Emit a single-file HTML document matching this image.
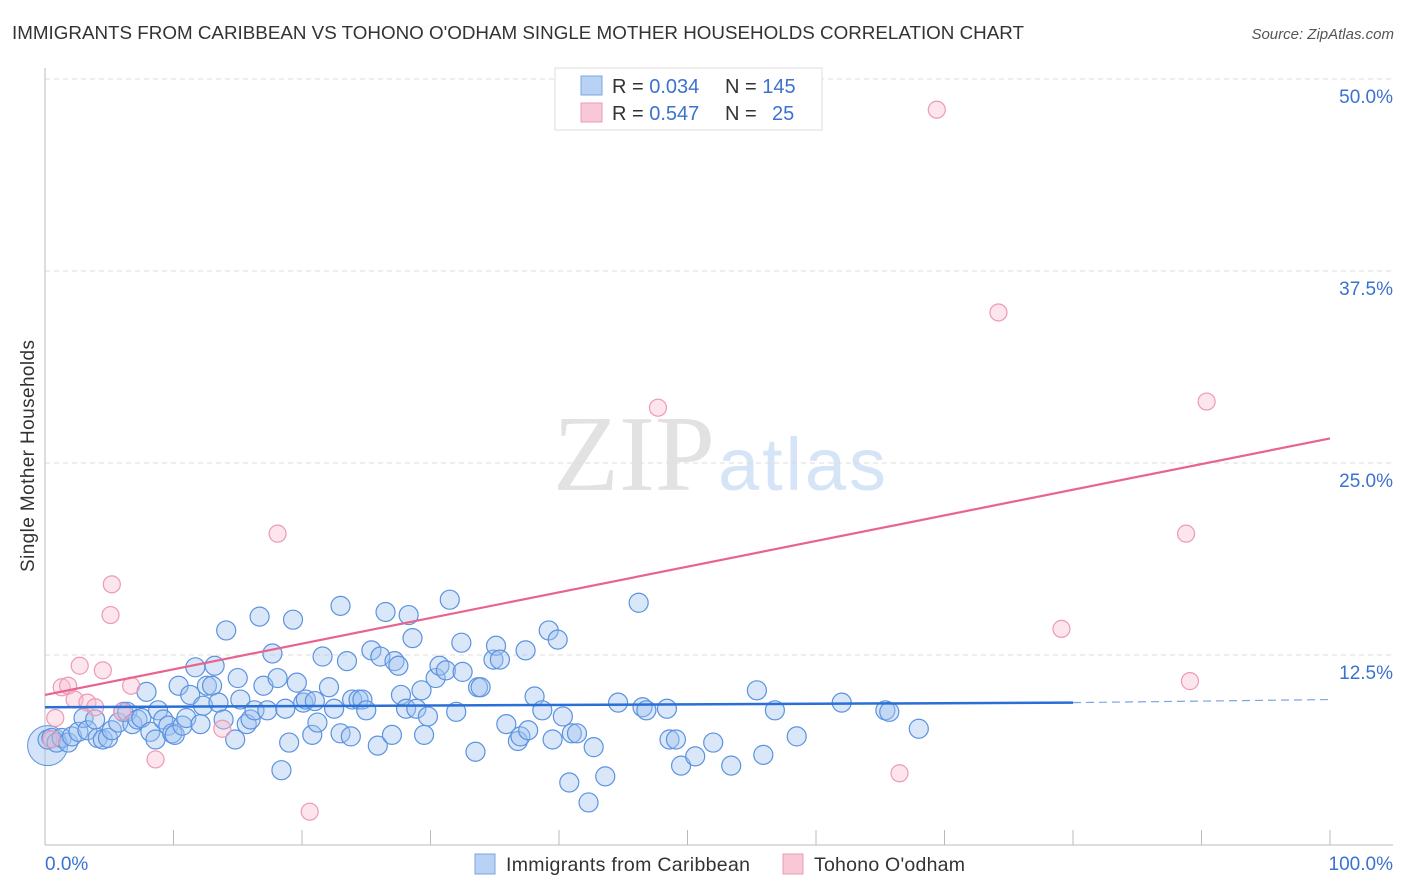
<!DOCTYPE html>
<html><head><meta charset="utf-8"><style>
body{margin:0;background:#fff;font-family:"Liberation Sans",sans-serif;}
#wrap{position:relative;width:1406px;height:892px;overflow:hidden;}
</style></head><body>
<div id="wrap">
<svg id="svg" width="1406" height="892" xmlns="http://www.w3.org/2000/svg" style="position:absolute;left:0;top:0">
<text x="12" y="39" font-size="18.5" fill="#333" textLength="1012" lengthAdjust="spacingAndGlyphs">IMMIGRANTS FROM CARIBBEAN VS TOHONO O'ODHAM SINGLE MOTHER HOUSEHOLDS CORRELATION CHART</text>
<text x="1394" y="39" font-size="15" fill="#555" font-style="italic" text-anchor="end">Source: ZipAtlas.com</text>
<text transform="translate(34,456) rotate(-90)" font-size="19" fill="#333" text-anchor="middle" textLength="232">Single Mother Households</text>
<text x="553" y="490" font-size="108" font-family="Liberation Serif,serif" fill="#e2e2e2" textLength="162" lengthAdjust="spacingAndGlyphs">ZIP</text>
<text x="718" y="490" font-size="74" fill="#d6e4f7" textLength="168">atlas</text>
<g id="grid"></g><g id="axes"></g><g id="pts"></g><g id="lines"></g>
<g>
<rect x="555" y="68" width="267" height="62" fill="#fff" stroke="#ddd"/>
<rect x="581" y="76" width="21" height="19" fill="#b9d2f3" stroke="#7aa6e6"/>
<rect x="581" y="103" width="21" height="19" fill="#f9c8d6" stroke="#eb9ab3"/>
<text x="612" y="93" font-size="20" fill="#333">R = <tspan fill="#3b72d1">0.034</tspan><tspan x="725">N = </tspan><tspan fill="#3b72d1">145</tspan></text>
<text x="612" y="120" font-size="20" fill="#333">R = <tspan fill="#3b72d1">0.547</tspan><tspan x="725">N = </tspan><tspan x="772" fill="#3b72d1">25</tspan></text>
</g>
<g>
<rect x="475" y="854" width="20" height="20" fill="#b9d2f3" stroke="#7aa6e6"/>
<text x="506" y="871" font-size="19.5" fill="#333" textLength="244">Immigrants from Caribbean</text>
<rect x="783" y="854" width="20" height="20" fill="#f9c8d6" stroke="#eb9ab3"/>
<text x="814" y="871" font-size="19.5" fill="#333" textLength="151">Tohono O'odham</text>
</g>
<text x="45" y="870" font-size="19" fill="#3b72d1">0.0%</text>
<text x="1393" y="870" font-size="19" fill="#3b72d1" text-anchor="end">100.0%</text>
</svg>
</div>
<script>
const yTicks=[12.5,25,37.5,50];
const yTickLabels=["12.5%","25.0%","37.5%","50.0%"];
const blueX=[0.2,0.5,0.9,1.3,1.8,2.1,2.6,3.0,3.3,3.9,4.1,4.5,4.9,5.2,5.7,6.1,6.4,6.8,7.2,7.5,7.9,8.2,8.6,8.8,9.2,9.6,9.9,10.1,10.4,10.7,11.0,11.3,11.7,12.1,12.3,12.6,13.0,13.2,13.5,13.9,14.1,14.8,15.0,15.2,15.7,16.0,16.3,16.7,17.0,17.3,17.7,18.1,18.4,18.7,19.0,19.3,19.6,20.1,20.3,20.8,21.0,21.2,21.6,22.1,22.5,23.0,23.0,23.5,23.8,23.9,24.4,24.7,25.0,25.4,25.9,26.1,26.5,27.0,27.2,27.5,27.7,28.1,28.3,28.6,28.9,29.3,29.5,29.8,30.4,30.7,31.2,31.5,32.0,32.4,32.5,33.5,33.7,33.9,34.9,35.1,35.4,35.9,36.8,37.0,37.4,37.6,38.1,38.7,39.2,39.5,39.9,40.3,40.8,41.0,41.4,42.3,42.7,43.6,44.6,46.2,46.5,46.8,48.4,48.6,49.1,49.5,50.6,52.0,53.4,55.4,55.9,56.8,58.5,62.0,65.4,65.7,68.0];
const blueY=[7.0,7.1,6.8,7.1,6.8,7.2,7.5,8.4,7.6,8.3,7.1,7.0,7.1,7.6,8.1,8.8,8.8,8.0,8.3,8.4,10.1,7.5,7.0,8.9,8.3,7.9,7.4,7.3,10.5,7.9,8.4,9.9,11.7,8.0,9.2,10.5,10.5,11.8,9.4,8.3,14.1,7.0,11.0,9.6,8.0,8.3,8.9,15.0,10.5,8.9,12.6,11.0,5.0,9.0,6.8,14.8,10.7,9.4,9.6,7.3,9.5,8.1,12.4,10.4,9.0,15.7,7.4,12.1,7.2,9.6,9.6,9.6,8.9,12.8,6.6,12.4,15.3,7.3,12.1,11.8,9.9,9.0,15.1,13.6,9.0,10.2,7.3,8.5,11.0,11.8,11.5,16.1,8.8,13.3,11.4,6.2,10.4,10.4,12.2,13.1,12.2,8.0,6.9,7.2,12.8,7.6,9.8,8.9,14.1,7.0,13.5,8.5,4.2,7.4,7.4,2.9,6.5,4.6,9.4,15.9,9.1,8.9,9.0,7.0,7.0,5.3,5.9,6.8,5.3,10.2,6.0,8.9,7.2,9.4,8.9,8.8,7.7];
const pinkX=[0.5,0.8,1.3,1.8,2.3,2.7,3.3,3.9,4.5,5.1,5.2,6.0,6.7,8.6,13.8,18.1,20.6,47.7,69.4,74.2,79.1,88.8,89.1,90.4,66.5];
const pinkY=[7.0,8.4,10.4,10.5,9.6,11.8,9.4,9.1,11.5,15.1,17.1,8.8,10.5,5.7,7.7,20.4,2.3,28.6,48.0,34.8,14.2,20.4,10.8,29.0,4.8];
const blueTrend=[[0,9.1],[80,9.4]];
const blueTrendDash=[[80,9.4],[100,9.6]];
const pinkTrend=[[0,9.9],[100,26.6]];
const X=v=>45+v*12.85, Y=v=>847-v*15.36;
const NS="http://www.w3.org/2000/svg";
function mk(tag,attrs,parent){const e=document.createElementNS(NS,tag);for(const k in attrs)e.setAttribute(k,attrs[k]);document.getElementById(parent).appendChild(e);return e;}
yTicks.forEach((t,i)=>{
 const g=mk('line',{x1:45,x2:1393,y1:Y(t),y2:Y(t),stroke:'#ddd','stroke-dasharray':'5,4'},'grid');
 
 
 const l=mk('text',{x:1393,y:Y(t)+24,'font-size':19,fill:'#3b72d1','text-anchor':'end'},'grid');
 l.textContent=yTickLabels[i];
 
 
});
let a=mk('line',{x1:45,x2:45,y1:68,y2:845,stroke:'#bbb'},'axes');


a=mk('line',{x1:45,x2:1393,y1:845,y2:845,stroke:'#bbb'},'axes');


for(let k=1;k<=10;k++){const t=mk('line',{x1:X(k*10),x2:X(k*10),y1:830,y2:845,stroke:'#bbb'},'axes');
 
 }
const big=mk('circle',{cx:X(0.2),cy:Y(6.6),r:20,fill:'rgba(160,195,240,0.45)',stroke:'#5b93e0','stroke-width':1},'pts');


blueX.forEach((x,i)=>{const c=mk('circle',{cx:X(x),cy:Y(blueY[i]),r:9.5,fill:'rgba(160,195,240,0.4)',stroke:'#5b93e0','stroke-width':1.2},'pts');
 
 });
pinkX.forEach((x,i)=>{const c=mk('circle',{cx:X(x),cy:Y(pinkY[i]),r:8.5,fill:'rgba(248,190,208,0.4)',stroke:'#ee9ab4','stroke-width':1.2},'pts');
 
 });
let t=mk('line',{x1:X(blueTrend[0][0]),y1:Y(blueTrend[0][1]),x2:X(blueTrend[1][0]),y2:Y(blueTrend[1][1]),stroke:'#2a6fd6','stroke-width':2.5},'lines');


t=mk('line',{x1:X(blueTrendDash[0][0]),y1:Y(blueTrendDash[0][1]),x2:X(blueTrendDash[1][0]),y2:Y(blueTrendDash[1][1]),stroke:'#7aa6e6','stroke-width':1.2,'stroke-dasharray':'8,5'},'lines');


t=mk('line',{x1:X(pinkTrend[0][0]),y1:Y(pinkTrend[0][1]),x2:X(pinkTrend[1][0]),y2:Y(pinkTrend[1][1]),stroke:'#e8638d','stroke-width':2.2},'lines');


</script>
</body></html>
